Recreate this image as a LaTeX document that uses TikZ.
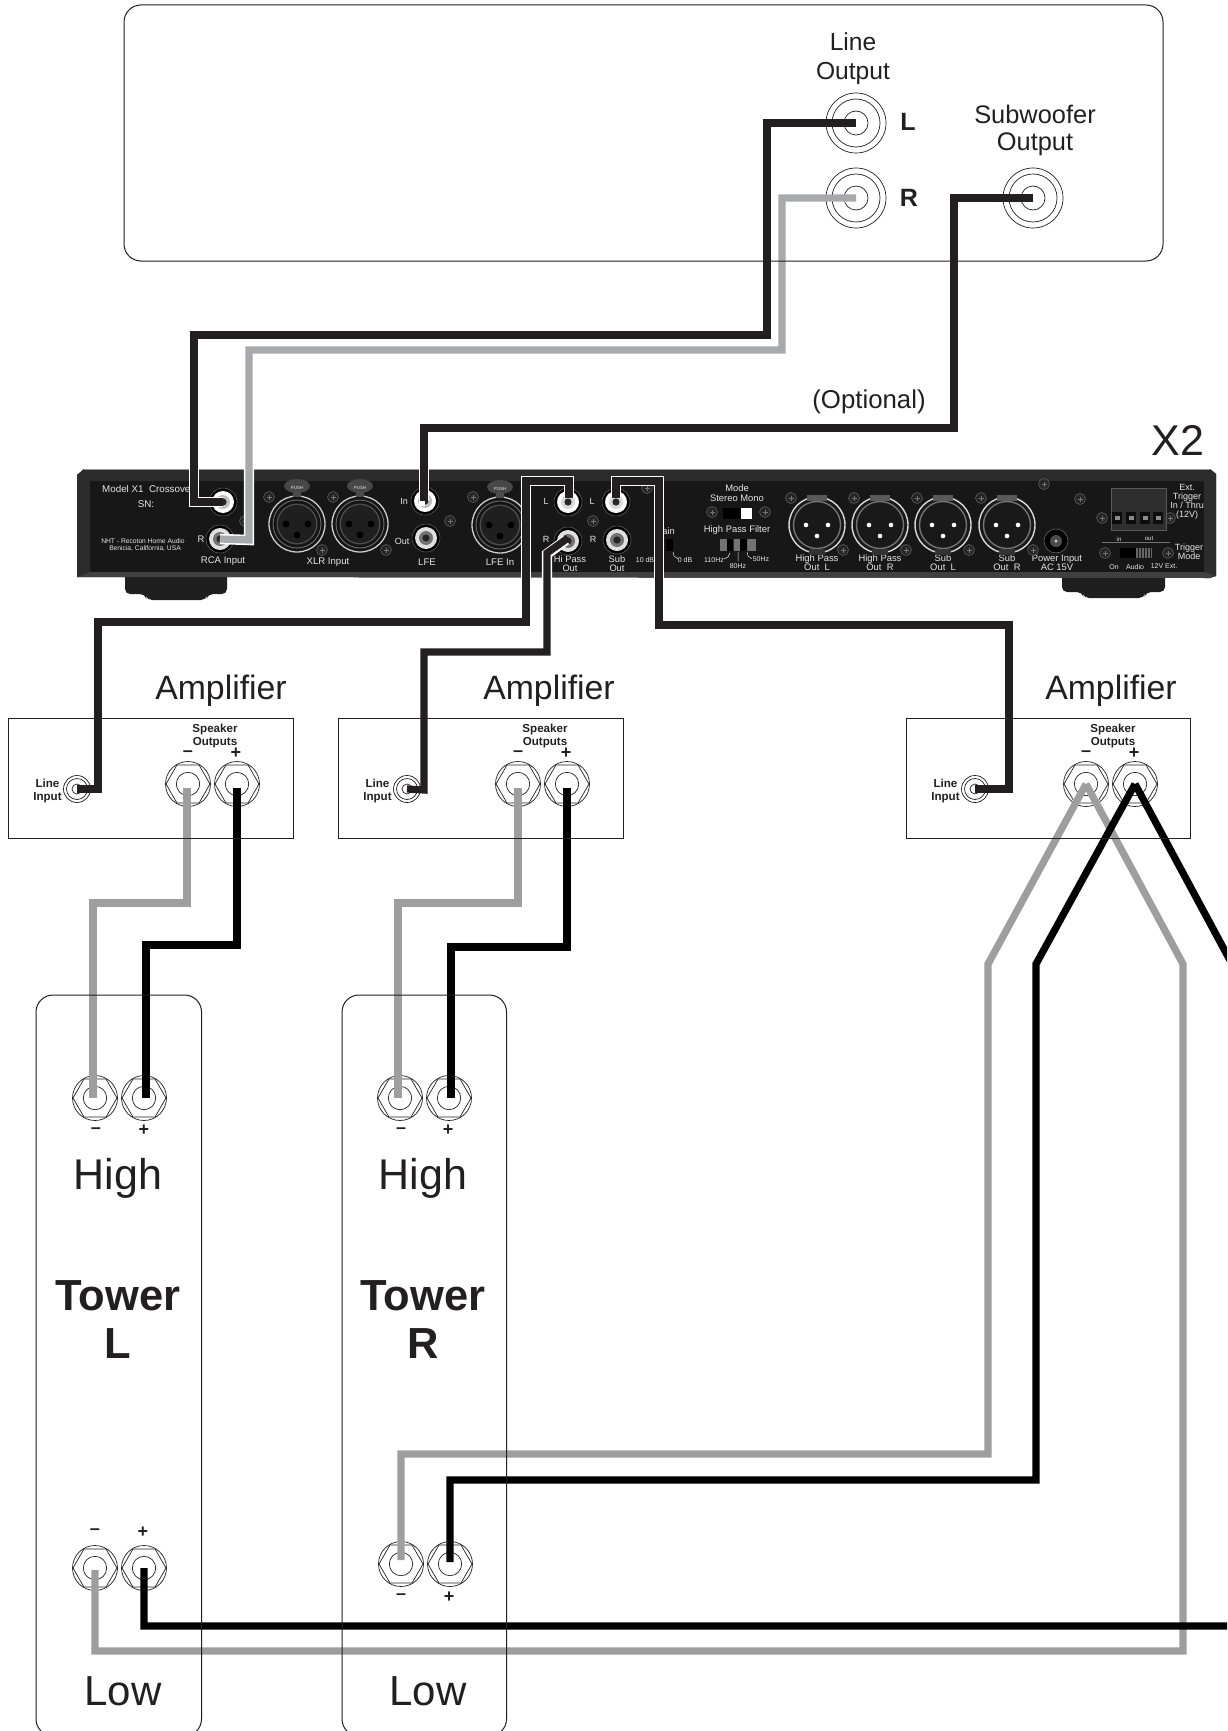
\documentclass[tikz,border=0pt]{standalone}
\usepackage{fontspec}
\setmainfont{Liberation Sans}
\usetikzlibrary{shapes.geometric,calc}
\definecolor{wblack}{HTML}{000000}
\definecolor{winput}{HTML}{231F20}
\definecolor{wgray}{HTML}{9E9E9E}
\definecolor{wgrayb}{HTML}{A7A9AC}
\definecolor{panelbody}{HTML}{171717}
\definecolor{paneledge}{HTML}{2C2C2C}
\definecolor{paneltxt}{HTML}{E6E6E6}
\definecolor{inkline}{HTML}{231F20}
\newcommand{\fs}[1]{\fontsize{#1}{#1}\selectfont}
\newcommand{\fsl}[2]{\fontsize{#1}{#2}\selectfont}
\tikzset{
  ring/.style={circle,draw=inkline,line width=0.7pt,inner sep=0pt,fill=none},
  hexa/.style={regular polygon,regular polygon sides=6,draw=inkline,line width=0.7pt,inner sep=0pt,minimum size=44pt},
  cable/.style={line width=7.2pt,line cap=butt,line join=miter,miter limit=4},
  blackcable/.style={cable,draw=wblack},
  inputcable/.style={cable,draw=winput},
  graycable/.style={cable,draw=wgray},
  graytop/.style={cable,draw=wgrayb},
  halo/.style={line width=10.4pt,line cap=butt,line join=miter,draw=white},
  ampbox/.style={draw=inkline,line width=1pt,fill=none},
  towerbox/.style={draw=inkline,line width=1pt,fill=none,rounded corners=17pt},
  txt/.style={inner sep=0pt,align=center,text=inkline},
  ptxt/.style={inner sep=0pt,align=center,text=paneltxt,font=\fsl{#1}{#1}},
  screwhead/.style={circle,fill=black!85,draw=black!60,line width=0.5pt,inner sep=0pt,minimum size=11pt},
  jackbase/.style={circle,fill=black,draw=black!60,line width=0.5pt,inner sep=0pt,minimum size=28pt}
}
\newcommand{\ptx}[4]{\node[ptxt=#3] (#1) at (#2) {#4};}
\newcommand{\screw}[2]{\node[screwhead] (#1) at (#2) {};
  \draw[black!55,line width=0.5pt] ($(#1)+(-2.5,0)$) -- ($(#1)+(2.5,0)$) ($(#1)+(0,-2.5)$) -- ($(#1)+(0,2.5)$);}
\newcommand{\jack}[4]{\node[jackbase] (#1) at (#2) {};
  \fill[#3] (#1.center) circle (11pt);
  \fill[#4] (#1.center) circle (7pt);
  \fill[black!85] (#1.center) circle (3.6pt);}
\newcommand{\xlrf}[2]{\node[circle,fill=black!92,draw=black!20,line width=1.3pt,inner sep=0pt,minimum size=56pt] (#1) at (#2) {};
  \draw[black!60,line width=1pt] (#1.center) circle (24pt);
  \fill[black!70] (#1.center) circle (20.5pt);
  \fill[black!88] (#1.center) circle (19pt);
  \fill[black] ($(#1)+(-11,0)$) circle (3.4pt) ($(#1)+(11,0)$) circle (3.4pt) ($(#1)+(0,11)$) circle (3.4pt);
  \fill[black!72] ($(#1)+(0,-38)$) ellipse (13pt and 7pt);
  \fill[black!70] ($(#1)+(-4,-32)$) rectangle ($(#1)+(4,-27)$);
  \node[inner sep=0pt,text=paneltxt,font=\fs{4.5}] (#1push) at ($(#1)+(0,-36)$) {PUSH};}
\newcommand{\xlrm}[2]{\node[circle,fill=black!90,draw=black!15,line width=1.4pt,inner sep=0pt,minimum size=56pt] (#1) at (#2) {};
  \draw[black!55,line width=1.4pt] (#1.center) circle (23.5pt);
  \fill[black!65] ($(#1)+(-10,-30)$) rectangle ($(#1)+(10,-24)$);
  \fill[black!80] ($(#1)+(-8,24)$) rectangle ($(#1)+(8,29.5)$);
  \fill[white] ($(#1)+(-11,0)$) circle (2.3pt) ($(#1)+(11,0)$) circle (2.3pt) ($(#1)+(0,11)$) circle (2.3pt);}
\newcommand{\rca}[2]{\node[ring,minimum size=60pt] (#1) at (#2) {};
  \draw[inkline,line width=0.7pt] (#1.center) circle (24pt) (#1.center) circle (12pt);}
\newcommand{\inputjack}[2]{\node[ring,minimum size=27pt] (#1) at (#2) {};
  \draw[inkline,line width=0.7pt] (#1.center) circle (10.5pt) (#1.center) circle (5pt);}
\newcommand{\post}[2]{\node[ring,minimum size=45pt] (#1) at (#2) {};
  \node[hexa] (#1hex) at (#2) {};
  \draw[inkline,line width=0.7pt] (#1.center) circle (11.7pt);}
\begin{document}
\begin{tikzpicture}[x=1pt,y=-1pt]
\useasboundingbox (0,0) rectangle (1227,1731);
\clip (0,0) rectangle (1227,1731);

% --- X2 panel: feet and body
\fill[black!88,rounded corners=5pt] (125,570) -- (227,570) -- (227,594) -- (208,594) -- (206,600) -- (147,600) -- (145,594) -- (125,594) -- cycle;
\fill[black!88,rounded corners=5pt] (1062,570) -- (1165,570) -- (1165,592) -- (1146,592) -- (1144,598) -- (1084,598) -- (1082,592) -- (1062,592) -- cycle;
\fill[panelbody] (84,469) -- (1210,469) -- (1216,474) -- (1216,576) -- (1210,578) -- (84,577) -- (77,577) -- (77,475) -- cycle;
\fill[paneledge] (84,469) -- (1210,469) -- (1216,474) -- (1204,481) -- (90,481) -- (77,475) -- cycle;
\fill[paneledge] (77,475) -- (90,481) -- (90,572) -- (77,577) -- cycle;
\fill[paneledge] (1204,481) -- (1216,474) -- (1216,576) -- (1204,572) -- cycle;
\fill[black!75] (90,572) -- (1204,572) -- (1216,576) -- (1210,578) -- (77,577) -- cycle;
\draw[black!40,line width=1pt] (84,469.5) -- (1210,469.5);

% --- panel labels
\node[ptxt=9.8,anchor=west] (pModelX) at (102,489) {Model X1\ \ Crossover};
\ptx{pSN}{146,504}{9.8}{SN:}
\ptx{pNHT}{143,541}{6.7}{NHT - Recoton Home Audio}
\ptx{pBen}{145,548}{6.7}{Benicia, California, USA}
\ptx{pR}{201,539}{9.5}{R}
\ptx{pRCA}{223,561}{9.6}{RCA Input}
\ptx{pXLR}{328,562}{9.6}{XLR Input}
\ptx{pIn}{404,501}{9}{In}
\ptx{pOut}{402,541}{9}{Out}
\ptx{pLFE}{427,562}{9.6}{LFE}
\ptx{pLFEIn}{500,562}{9.6}{LFE In}
\ptx{pHL}{546,501}{9}{L}
\ptx{pHR}{546,539}{9}{R}
\ptx{pSL}{592,501}{9}{L}
\ptx{pSR}{593,539}{9}{R}
\ptx{pHi}{570,563.5}{9.3}{Hi Pass\\Out}
\ptx{pSub}{617,563.5}{9.3}{Sub\\Out}
\ptx{p10}{645,560}{7}{10 dB}
\ptx{p0}{685,560}{7}{0 dB}
\ptx{pGain}{665,531}{9.3}{Gain}
\ptx{pMode}{737,493}{9.4}{Mode\\Stereo Mono}
\ptx{pHPF}{737,530}{9.4}{High Pass Filter}
\ptx{p110}{714,560}{7}{110Hz}
\ptx{p80}{738,566}{7}{80Hz}
\ptx{p50}{761,559}{7}{50Hz}
\ptx{pOHL}{817,562.5}{9.4}{High Pass\\Out\ \ L}
\ptx{pOHR}{880,562.5}{9.4}{High Pass\\Out\ \ R}
\ptx{pOSL}{943,562.5}{9.4}{Sub\\Out\ \ L}
\ptx{pOSR}{1007,562.5}{9.4}{Sub\\Out\ \ R}
\ptx{pPow}{1057,563}{9.4}{Power Input\\AC 15V}
\ptx{pExt}{1187,502}{9}{Ext.\\Trigger\\In / Thru\\(12V)}
\ptx{pTrig}{1189,551.5}{9}{Trigger\\Mode}
\ptx{pOn}{1114,567}{7}{On}
\ptx{pAudio}{1135,567}{7}{Audio}
\ptx{pExtV}{1164,566}{7}{12V Ext.}
\ptx{pInT}{1119,539}{6}{in}
\ptx{pOutT}{1149,539}{6}{out}

% --- panel connectors
\jack{inL}{223,502}{white}{black!25}
\jack{inR}{220,539}{black!12}{black!55}
\xlrf{xa}{297,524}
\xlrf{xb}{360,524}
\jack{lfeIn}{425,501}{white}{black!25}
\jack{lfeOut}{426,538}{black!12}{black!55}
\xlrf{xc}{500,525}
\jack{hiL}{568,502}{white}{black!15}
\jack{hiR}{568,541}{black!12}{black!55}
\jack{subL}{616,502}{white}{black!15}
\jack{subR}{617,540}{black!12}{black!55}
\xlrm{xd}{817,525}
\xlrm{xe}{880,525}
\xlrm{xf}{943,525}
\xlrm{xg}{1007,525}
\foreach \n/\p in {sa/{269,497},sb/{333,497},sc/{322,550},sd/{386,550},se/{245,521},sf/{450,521},sg/{473,497},sh/{593,521},si/{647,488},sj/{712,512},sk/{765,512},sl/{791,498},sm/{854,498},sn/{917,498},so/{981,498},sp/{843,550},sq/{906,550},sr/{969,550},ss/{1033,550},st/{1044,484},su/{1080,499},sv/{1102,518},sw/{1170,518},sx/{1105,553},sy/{1168,553}}{\screw{\n}{\p}}
% switches
\fill[black] (666,539) rectangle (673,551);
\draw[paneltxt,line width=0.5pt] (673,552) -- (674,556) -- (678,559);
\fill[black] (723,508) rectangle (741,519);
\fill[white] (741,508) rectangle (752,519);
\fill[black!55] (720,539) rectangle (756,551);
\fill[black] (727,539) rectangle (733.5,551) (740,539) rectangle (747,551);
\draw[paneltxt,line width=0.5pt] (730,553) -- (728,557) -- (724,559) (738,552) -- (738,561) (747,552) -- (748,556) -- (752,559);
% power jack
\node[circle,fill=black,draw=black!60,line width=0.6pt,inner sep=0pt,minimum size=24pt] (powerJack) at (1056,541) {};
\fill[black!70] (powerJack.center) circle (6pt);
\fill[black!20] (powerJack.center) circle (1.6pt);
% terminal block
\node[fill=black!82,draw=black!65,line width=0.5pt,inner sep=0pt,minimum width=55pt,minimum height=42pt] (block) at (1138.5,509) {};
\foreach \x in {1117,1131,1145,1158}{\fill[black!95] (\x-5,512) rectangle (\x+5,524); \fill[black!45] (\x-2.5,516) rectangle (\x+2.5,520);}
\draw[black!55,line width=0.6pt] (1102,542) -- (1170,542);
% trigger switch
\fill[black] (1120,548) rectangle (1136,558);
\fill[black!60] (1136,548) rectangle (1152,558);
\foreach \x in {1138,1141,1144,1147,1150}{\draw[black!90,line width=0.6pt] (\x,548) -- (\x,558);}

% --- upper source unit connectors
\rca{lineL}{856,123}
\rca{lineR}{856,198}
\rca{subOut}{1033,198}

% --- amplifier and tower connectors
\inputjack{ampAin}{77,789}
\inputjack{ampBin}{407,789}
\inputjack{ampCin}{975,789}
\post{ampAm}{188,784}
\post{ampAp}{237,784}
\post{ampBm}{518,784}
\post{ampBp}{567,784}
\post{ampCm}{1086,784}
\post{ampCp}{1135,784}
\post{tLHm}{95,1098}
\post{tLHp}{144,1098}
\post{tRHm}{400,1098}
\post{tRHp}{449,1098}
\post{tLLm}{95,1568}
\post{tLLp}{144,1568}
\post{tRLm}{401,1564}
\post{tRLp}{450,1564}

% --- white halos over the panel
\draw[halo] (inL.center) -- (194,502) -- (194,400);
\draw[halo] (inR.center) -- (249,540) -- (249,400);
\draw[halo] (lfeIn.center) -- (424,501) -- (424,400);
\draw[halo] (569,498) -- (569,481) -- (526,481) -- (526,640);
\draw[halo] (566,540) -- (547,554) -- (547,640);
\draw[halo] (616,498) -- (616,481) -- (659,481) -- (659,640);

% --- cables
\draw[graytop] (lineR.center) -- (782,198) -- (782,350) -- (249,350) -- (249,540) -- (inR.center);
\draw[inputcable] (lineL.center) -- (767,123) -- (767,335) -- (194,335) -- (194,502) -- (inL.center);
\draw[inputcable] (subOut.center) -- (954,198) -- (954,428) -- (424,428) -- (424,501);
\draw[inputcable] (hiL.center) ++(1,-4) -- (569,481) -- (526,481) -- (526,622) -- (98,622) -- (98,789) -- (ampAin.center);
\draw[inputcable] (hiR.center) ++(0,-3) -- (547,553) -- (547,652) -- (424,652) -- (424,790) -- (ampBin.center);
\draw[inputcable] (subL.center) ++(0,-4) -- (616,481) -- (659,481) -- (659,625) -- (1009,625) -- (1009,789) -- (ampCin.center);

% speaker cables
\draw[graycable] (ampAm.center) ++(-1,4) -- (187,903) -- (93,903) -- (93,1098);
\draw[blackcable] (ampAp.center) ++(0,4) -- (237,945) -- (146,945) -- (146,1098);
\draw[graycable] (ampBm.center) ++(0,4) -- (518,903) -- (398,903) -- (398,1098);
\draw[blackcable] (ampBp.center) ++(0,4) -- (567,947) -- (451,947) -- (451,1098);
\draw[graycable] (tLLm.center) ++(0,2) -- (95,1651) -- (1183,1651) -- (1183,964) -- (ampCm.center);
\draw[graycable] (tRLm.center) ++(0,-4) -- (401,1454) -- (988,1454) -- (988,964) -- (ampCm.center);
\draw[blackcable] (tRLp.center) ++(0,-2) -- (450,1480) -- (1036,1480) -- (1036,964) -- (ampCp.center);
\draw[blackcable] (tLLp.center) -- (144,1626) -- (1232,1626) -- (1232,964) -- (ampCp.center);

% --- outlines drawn over the cables
\draw[ampbox,rounded corners=17pt] (124,5) rectangle (1163,261);
\draw[ampbox] (8,718.5) rectangle (293,838.5);
\draw[ampbox] (338,718.5) rectangle (623,838.5);
\draw[ampbox] (906,718.5) rectangle (1190,838.5);
\draw[towerbox] (36,995) rectangle (201.5,1736);
\draw[towerbox] (342,995) rectangle (506.5,1736);

% --- labels
\node[txt,font=\fsl{24.6}{29}] (lblLineOut) at (853,58.5) {Line\\Output};
\node[txt,font=\fsl{25.4}{27}] (lblSubOut) at (1035,130.5) {Subwoofer\\Output};
\node[txt,font=\bfseries\fs{25}] (lblL) at (908,122) {L};
\node[txt,font=\bfseries\fs{25}] (lblR) at (909,198) {R};
\node[txt,font=\fs{25.8}] (lblOpt) at (869,402) {(Optional)};
\node[txt,font=\fs{43}] (lblX) at (1178,440) {X2};
\foreach \n/\x in {A/221,B/549,C/1111}{\node[txt,font=\fs{33.8}] (lblAmp\n) at (\x,691) {Amplifier};}
\foreach \n/\x/\y in {A/215/735.5,B/545/735.5,C/1113/735.5}{\node[txt,font=\bfseries\fsl{11.6}{13}] (lblSpk\n) at (\x,\y) {Speaker\\Outputs};}
\foreach \n/\x in {A/47.5,B/377.5,C/945.5}{\node[txt,font=\bfseries\fsl{11.6}{13}] (lblLI\n) at (\x,790.5) {Line\\Input};}
\foreach \n/\x/\y in {a/188/754,b/518/754,c/1086/754,g/96/1131,i/401/1131,k/95/1532,m/401/1597}{\node[txt,font=\bfseries\fs{18}] (lblMinus\n) at (\x,\y) {–};}
\foreach \n/\x/\y in {a/236/753,b/566/753,c/1134/753,g/144/1130,i/448/1130,k/143/1532,m/449/1597}{\node[txt,font=\bfseries\fs{18}] (lblPlus\n) at (\x,\y) {+};}
\node[txt,font=\fs{43}] (lblHL) at (118,1178) {High};
\node[txt,font=\fs{43}] (lblHR) at (423,1178) {High};
\node[txt,font=\bfseries\fsl{43.5}{48}] (lblTL) at (118,1320) {Tower\\L};
\node[txt,font=\bfseries\fsl{43.5}{48}] (lblTR) at (423,1320) {Tower\\R};
\node[txt,font=\fs{42}] (lblLL) at (123,1691) {Low};
\node[txt,font=\fs{42}] (lblLR) at (428,1691) {Low};
\end{tikzpicture}
\end{document}
